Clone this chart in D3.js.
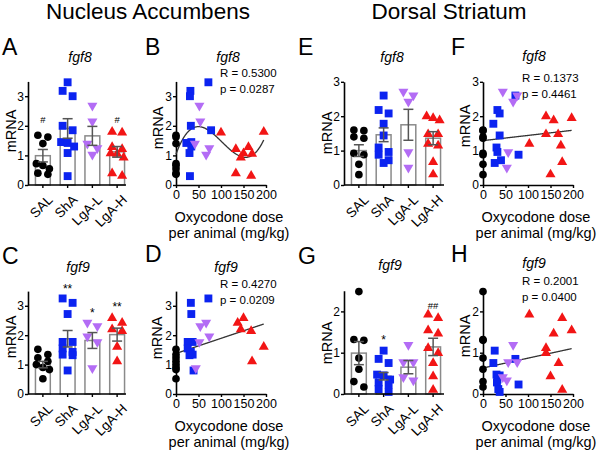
<!DOCTYPE html>
<html><head><meta charset="utf-8">
<script src="https://cdn.jsdelivr.net/npm/d3@7"></script>
<style>
body{margin:0;background:#fff}
svg{display:block}
text{font-family:"Liberation Sans",Arial,sans-serif;fill:#000}
</style>
</head><body>
<svg id="chart" width="600" height="450"></svg>
<script>
// ---------------- DATA ----------------
const groups = ["SAL", "ShA", "LgA-L", "LgA-H"];
const groupColors = ["#000000", "#0b23f0", "#b36cf5", "#f21515"];
const doseTicks = [0, 50, 100, 150, 200];

// Nucleus Accumbens fgf8: SAL values (dose 0), other groups [dose (mg/kg), mRNA]
const nacFgf8SAL = [1.68, 1.62, 1.4, 0.72, 0.66, 0.55, 0.4, 0.36];
const nacFgf8ShA = [[72,3.47],[32,3.18],[31,3.0],[33,2.0],[78,1.85],[23,1.42],[34,1.45],[34,1.3],[30,1.08],[31,0.3]];
const nacFgf8LgAL = [[52,2.65],[54,2.12],[42,1.37],[74,1.22],[67,1.0]];
const nacFgf8LgAH = [[100,1.8],[195,1.82],[133,1.24],[161,1.31],[150,1.1],[169,1.08],[144,0.95],[133,0.42],[167,0.34]];
const nacFgf8Mean = [0.99, 1.91, 1.66, 1.12];
const nacFgf8Sem = [0.21, 0.33, 0.32, 0.18];
const nacFgf8Marks = [["#", 0, 2.1], ["#", 3, 2.1]];
const nacFgf8Fit = [1.04, 0.04187, -0.00055536, 0.0000018119]; // cubic fit coefficients
const nacFgf8Stats = ["R = 0.5300", "p = 0.0287"];

// Nucleus Accumbens fgf9
const nacFgf9SAL = [1.52, 1.34, 1.23, 1.11, 1.0, 0.9, 0.83, 0.52];
const nacFgf9ShA = [[33,3.1],[72,3.25],[34,2.72],[26,1.77],[37,1.77],[26,1.55],[33,1.43],[30,1.32],[37,1.34],[39,0.8]];
const nacFgf9LgAL = [[54,2.28],[67,2.4],[52,1.74],[74,1.93],[44,0.85]];
const nacFgf9LgAH = [[137,2.45],[150,2.61],[144,2.23],[167,2.17],[195,1.63],[169,1.14]];
const nacFgf9Mean = [1.0, 1.88, 1.82, 2.02];
const nacFgf9Sem = [0.11, 0.28, 0.27, 0.22];
const nacFgf9Marks = [["**", 1, 3.45], ["*", 2, 2.62], ["**", 3, 2.82]];
const nacFgf9Fit = [1.38, 0.00513];
const nacFgf9Stats = ["R = 0.4270", "p = 0.0209"];

// Dorsal Striatum fgf8
const dsFgf8SAL = [1.6, 1.58, 1.4, 1.36, 0.92, 0.88, 0.6, 0.3];
const dsFgf8ShA = [[72,2.6],[32,2.18],[37,2.08],[23,1.78],[37,1.44],[30,1.09],[32,0.96],[79,0.88],[40,0.72],[26,0.64]];
const dsFgf8LgAL = [[44,2.69],[67,2.4],[76,2.58],[56,0.93],[53,0.48]];
const dsFgf8LgAH = [[140,2.02],[157,1.9],[197,1.97],[140,1.5],[167,1.5],[103,1.22],[173,1.17],[176,0.69],[150,0.33]];
const dsFgf8Mean = [1.0, 1.46, 1.75, 1.36];
const dsFgf8Sem = [0.17, 0.2, 0.45, 0.19];
const dsFgf8Marks = [];
const dsFgf8Fit = [1.29, 0.00151];
const dsFgf8Stats = ["R = 0.1373", "p = 0.4461"];

// Dorsal Striatum fgf9
const dsFgf9SAL = [2.48, 1.32, 1.3, 0.87, 0.6, 0.3, 0.17];
const dsFgf9ShA = [[26,1.05],[72,0.85],[23,0.75],[30,0.47],[37,0.45],[32,0.35],[31,0.28],[79,0.23],[34,0.12],[37,0.05]];
const dsFgf9LgAL = [[67,1.17],[56,0.75],[76,0.75],[44,0.39],[53,0.31]];
const dsFgf9LgAH = [[103,1.94],[176,1.86],[197,1.56],[157,1.48],[140,1.13],[140,1.01],[168,0.77],[150,0.45],[176,0.12]];
const dsFgf9Mean = [0.99, 0.43, 0.65, 1.14];
const dsFgf9Sem = [0.28, 0.09, 0.16, 0.21];
const dsFgf9Marks = [["*", 1, 1.2], ["##", 3, 2.05]];
const dsFgf9Fit = [0.63, 0.00238];
const dsFgf9Stats = ["R = 0.2001", "p = 0.0400"];

// ---------------- DRAWING ----------------
const svg = d3.select("#chart");
const FONT = '"Liberation Sans",Arial,sans-serif';
const TICK_FS = 12;

function symbolPath(gi) {
  const types = [d3.symbolCircle, d3.symbolSquare, d3.symbolTriangle, d3.symbolTriangle];
  const sizes = [46, 62, 44, 44];
  return d3.symbol().type(types[gi]).size(sizes[gi])();
}
function drawMarker(g, gi, x, y) {
  const rot = gi === 2 ? 180 : 0;
  const dy = gi === 2 ? -0.8 : (gi === 3 ? 0.8 : 0);
  g.append("path").attr("d", symbolPath(gi))
    .attr("transform", `translate(${x},${y + dy}) rotate(${rot})`)
    .attr("fill", groupColors[gi]);
}

function groupValues(sal, sha, lgl, lgh) {
  return [sal.map(v => [0, v]), sha, lgl, lgh];
}

function styleAxis(a, fs) {
  a.selectAll("path.domain").attr("stroke", "#000").attr("stroke-width", 1.6);
  a.selectAll(".tick line").attr("stroke", "#000").attr("stroke-width", 1.4);
  a.selectAll(".tick text").attr("font-size", fs).attr("font-family", FONT).attr("fill", "#000");
}

function panelLetter(letter, x, y) {
  svg.append("text").attr("x", x).attr("y", y).attr("font-size", 23).text(letter);
}
function geneTitle(name, x, y) {
  svg.append("text").attr("x", x).attr("y", y).attr("text-anchor", "middle")
    .attr("font-size", 14).attr("font-style", "italic").text(name);
}
function yLabel(bx, cy) {
  svg.append("text").attr("transform", `translate(${bx},${cy}) rotate(-90)`)
    .attr("text-anchor", "middle").attr("font-size", 14.5).text("mRNA");
}

function barPanel(cfg) {
  const g = svg.append("g");
  const y = d3.scaleLinear().domain([0, cfg.ymax]).range([cfg.y0, cfg.y0 - cfg.ymax * cfg.ppu]);
  const x = d3.scaleBand().domain(groups).range([cfg.ax + 2.5, cfg.ax + 101.5]).paddingInner(0.4).paddingOuter(0.2);
  const bw = x.bandwidth();
  g.selectAll("rect.bar").data(cfg.mean).join("rect")
    .attr("x", (d, i) => x(groups[i])).attr("width", bw)
    .attr("y", d => y(d)).attr("height", d => y(0) - y(d))
    .attr("fill", "#fff").attr("stroke", "#8a8a8a").attr("stroke-width", 1.5);
  cfg.vals.forEach((arr, gi) => {
    const cx = x(groups[gi]) + bw / 2;
    const vs = arr.map(d => d[1]).sort((a, b) => b - a);
    const rows = [];
    vs.forEach(v => {
      const last = rows[rows.length - 1];
      if (last && (y(v) - y(last[0])) < 6) last.push(v); else rows.push([v]);
    });
    rows.forEach(r => {
      const n = r.length;
      const sp = n === 2 ? 10 : 6.5;
      r.forEach((v, i) => drawMarker(g, gi, cx + (i - (n - 1) / 2) * sp, y(v)));
    });
  });
  cfg.mean.forEach((m, i) => {
    const cx = x(groups[i]) + bw / 2;
    const s = cfg.sem[i];
    const eg = g.append("g").attr("stroke", "#555").attr("stroke-width", 1.5);
    eg.append("line").attr("x1", cx).attr("x2", cx).attr("y1", y(m - s)).attr("y2", y(m + s));
    eg.append("line").attr("x1", cx - 5).attr("x2", cx + 5).attr("y1", y(m - s)).attr("y2", y(m - s));
    eg.append("line").attr("x1", cx - 5).attr("x2", cx + 5).attr("y1", y(m + s)).attr("y2", y(m + s));
  });
  cfg.marks.forEach(([t, gi, v]) => {
    g.append("text").attr("x", x(groups[gi]) + bw / 2).attr("y", y(v))
      .attr("text-anchor", "middle").attr("font-size", t.startsWith("#") ? 9.5 : 12).text(t);
  });
  const ya = g.append("g").attr("transform", `translate(${cfg.ax},0)`)
    .call(d3.axisLeft(y).tickValues(cfg.yticks).tickSize(3).tickSizeOuter(0).tickPadding(1).tickFormat(d3.format("d")));
  styleAxis(ya, TICK_FS);
  g.append("line").attr("x1", cfg.ax).attr("x2", cfg.axEnd).attr("y1", cfg.y0).attr("y2", cfg.y0)
    .attr("stroke", "#000").attr("stroke-width", 1.6);
  groups.forEach((name, i) => {
    const cx = x(name) + bw / 2;
    g.append("line").attr("x1", cx).attr("x2", cx).attr("y1", cfg.y0).attr("y2", cfg.y0 + 3)
      .attr("stroke", "#000").attr("stroke-width", 1.4);
    g.append("text").attr("transform", `translate(${cx + 4},${cfg.y0 + 9}) rotate(-45)`)
      .attr("text-anchor", "end").attr("font-size", 13.5).attr("dy", "0.7em").text(name);
  });
}

function scatterPanel(cfg) {
  const g = svg.append("g");
  const y = d3.scaleLinear().domain([0, cfg.ymax]).range([cfg.y0, cfg.y0 - cfg.ymax * cfg.ppu]);
  const x = d3.scaleLinear().domain([0, 200]).range([cfg.ax, cfg.ax + 90]);
  const xa = g.append("g").attr("transform", `translate(0,${cfg.y0})`)
    .call(d3.axisBottom(x).tickValues(doseTicks).tickSize(3).tickSizeOuter(0).tickPadding(2));
  styleAxis(xa, 12.5);
  const ya = g.append("g").attr("transform", `translate(${cfg.ax},0)`)
    .call(d3.axisLeft(y).tickValues(cfg.yticks).tickSize(3).tickSizeOuter(0).tickPadding(1).tickFormat(d3.format("d")));
  styleAxis(ya, TICK_FS);
  const maxDose = d3.max(cfg.vals.flat(), d => d[0]);
  const fx = d3.range(0, maxDose + 0.5, 1);
  const f = cfg.fit;
  const line = d3.line().x(d => x(d)).y(d => y(f.reduce((s, c, k) => s + c * Math.pow(d, k), 0)));
  g.append("path").datum(fx).attr("d", line).attr("fill", "none").attr("stroke", "#333").attr("stroke-width", 1.3);
  cfg.vals.forEach((arr, gi) => arr.forEach(([d, v]) => drawMarker(g, gi, x(d), y(v))));
  g.append("text").attr("x", cfg.statX).attr("y", cfg.statY).attr("font-size", 11.5).text(cfg.stats[0]);
  g.append("text").attr("x", cfg.statX).attr("y", cfg.statY + 16).attr("font-size", 11.5).text(cfg.stats[1]);
  g.append("text").attr("x", cfg.ax + 53).attr("y", cfg.y0 + 37).attr("text-anchor", "middle").attr("font-size", 14.5).text("Oxycodone dose");
  g.append("text").attr("x", cfg.ax + 53).attr("y", cfg.y0 + 53).attr("text-anchor", "middle").attr("font-size", 14.5).text("per animal (mg/kg)");
}

svg.append("text").attr("x", 148).attr("y", 19).attr("text-anchor", "middle").attr("font-size", 22.5).text("Nucleus Accumbens");
svg.append("text").attr("x", 449).attr("y", 19).attr("text-anchor", "middle").attr("font-size", 22.5).text("Dorsal Striatum");

const TOP0 = 185, BOT0 = 394;
barPanel({ax: 28, axEnd: 126, y0: TOP0, ymax: 3.5, ppu: 29.6, yticks: [0,1,2,3],
  vals: groupValues(nacFgf8SAL, nacFgf8ShA, nacFgf8LgAL, nacFgf8LgAH), mean: nacFgf8Mean, sem: nacFgf8Sem, marks: nacFgf8Marks});
barPanel({ax: 28, axEnd: 126, y0: BOT0, ymax: 3.5, ppu: 29.4, yticks: [0,1,2,3],
  vals: groupValues(nacFgf9SAL, nacFgf9ShA, nacFgf9LgAL, nacFgf9LgAH), mean: nacFgf9Mean, sem: nacFgf9Sem, marks: nacFgf9Marks});
barPanel({ax: 344, axEnd: 444, y0: TOP0, ymax: 3, ppu: 34.4, yticks: [0,1,2,3],
  vals: groupValues(dsFgf8SAL, dsFgf8ShA, dsFgf8LgAL, dsFgf8LgAH), mean: dsFgf8Mean, sem: dsFgf8Sem, marks: dsFgf8Marks});
barPanel({ax: 344, axEnd: 444, y0: BOT0, ymax: 2.5, ppu: 41.3, yticks: [0,1,2],
  vals: groupValues(dsFgf9SAL, dsFgf9ShA, dsFgf9LgAL, dsFgf9LgAH), mean: dsFgf9Mean, sem: dsFgf9Sem, marks: dsFgf9Marks});

scatterPanel({ax: 176, y0: TOP0, ymax: 3.5, ppu: 29.6, yticks: [0,1,2,3], fit: nacFgf8Fit, stats: nacFgf8Stats, statX: 220, statY: 77,
  vals: groupValues(nacFgf8SAL, nacFgf8ShA, nacFgf8LgAL, nacFgf8LgAH)});
scatterPanel({ax: 176, y0: BOT0, ymax: 3.5, ppu: 29.4, yticks: [0,1,2,3], fit: nacFgf9Fit, stats: nacFgf9Stats, statX: 220, statY: 288,
  vals: groupValues(nacFgf9SAL, nacFgf9ShA, nacFgf9LgAL, nacFgf9LgAH)});
scatterPanel({ax: 483, y0: TOP0, ymax: 3, ppu: 34.4, yticks: [0,1,2,3], fit: dsFgf8Fit, stats: dsFgf8Stats, statX: 522, statY: 82,
  vals: groupValues(dsFgf8SAL, dsFgf8ShA, dsFgf8LgAL, dsFgf8LgAH)});
scatterPanel({ax: 483, y0: BOT0, ymax: 2.5, ppu: 41.3, yticks: [0,1,2], fit: dsFgf9Fit, stats: dsFgf9Stats, statX: 522, statY: 285,
  vals: groupValues(dsFgf9SAL, dsFgf9ShA, dsFgf9LgAL, dsFgf9LgAH)});

[["A",2,55],["B",145,55],["E",298,55],["F",451,55],["C",2,264],["D",145,262],["G",298,264],["H",451,262]]
  .forEach(([l, x, y]) => panelLetter(l, x, y));
[[80,62],[228,62],[392,62],[534,61],[78,272],[226,272],[390,270],[534,268]]
  .forEach(([x, y], i) => geneTitle(i < 4 ? "fgf8" : "fgf9", x, y));
[[16,131],[162.5,128],[332,133],[470,126],[16,337],[162,338],[332,343],[469.5,336]]
  .forEach(([x, y]) => yLabel(x, y));
</script>
</body></html>
